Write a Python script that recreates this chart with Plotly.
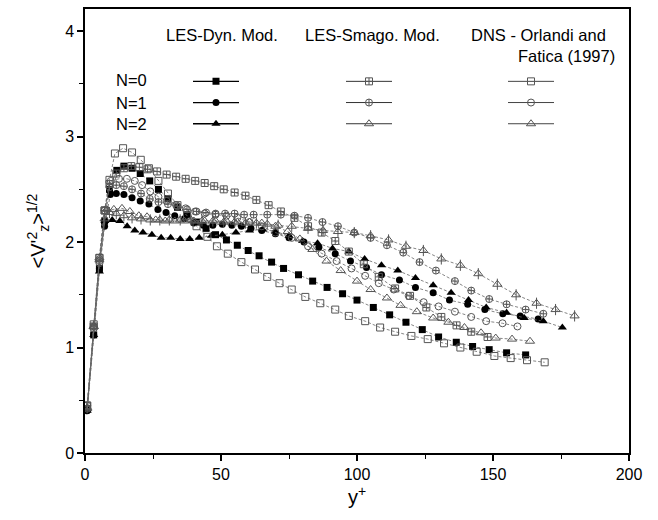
import plotly.graph_objects as go

# ---------------- data ----------------
dyn0_x = [0.8, 3.2, 5.3, 7.2, 9.0, 11.7, 14.3, 17.3, 20.3, 23.8, 27, 30.5, 34, 37.5, 41, 44.5, 48, 52, 56, 60, 64,
          68.6, 73, 78.5, 83.7, 89, 94.7, 100, 106, 112, 118, 124, 130, 136.5, 142.5, 148.6, 155, 162]
dyn0_y = [0.42, 1.12, 1.75, 2.2, 2.5, 2.68, 2.72, 2.70, 2.65, 2.58, 2.50, 2.41, 2.33, 2.26, 2.19, 2.13, 2.07, 2.02,
          1.97, 1.92, 1.87, 1.81, 1.75, 1.69, 1.63, 1.57, 1.51, 1.45, 1.38, 1.31, 1.24, 1.17, 1.10, 1.05, 1.01, 0.98,
          0.95, 0.93]

dyn1_x = [0.8, 3.2, 5.3, 7.2, 9.3, 11.5, 14.3, 17.3, 20.3, 23.5, 26.8, 29.8, 33, 36.5, 40, 43.5, 47, 50.5, 54, 57.5,
          61, 65, 70, 75, 80.5, 86, 92, 97.6, 103.5, 109, 115.6, 121.5, 128, 134, 140.7, 147, 153.6, 160, 166.6]
dyn1_y = [0.40, 1.12, 1.75, 2.15, 2.45, 2.46, 2.45, 2.42, 2.39, 2.36, 2.31, 2.28, 2.25, 2.22, 2.18, 2.16, 2.16, 2.17,
          2.16, 2.15, 2.13, 2.11, 2.08, 2.04, 2.00, 1.95, 1.89, 1.82, 1.76, 1.69, 1.64, 1.57, 1.52, 1.45, 1.41, 1.36,
          1.32, 1.30, 1.27]

dyn2_x = [0.8, 3.2, 5.3, 7.3, 10, 12.8, 15.5, 18.3, 21.3, 24.6, 28, 31.5, 35, 38.5, 42, 46.5, 50.5, 55.5, 60.5, 65.3,
          70, 75, 80, 85.5, 91, 97, 102.8, 109, 115, 121.5, 128, 134.6, 141, 147.5, 155, 161.5, 168.5, 175.5]
dyn2_y = [0.40, 1.12, 1.72, 2.2, 2.21, 2.20, 2.15, 2.11, 2.09, 2.07, 2.04, 2.04, 2.03, 2.03, 2.04, 2.06, 2.07, 2.09,
          2.11, 2.12, 2.10, 2.06, 2.01, 1.99, 1.94, 1.91, 1.84, 1.78, 1.73, 1.66, 1.59, 1.52, 1.45, 1.38, 1.33, 1.28,
          1.25, 1.19]

sma0_x = [0.8, 3.2, 5.3, 7.2, 9.0, 11.5, 14.3, 17, 20, 23, 26.5, 30, 33.5, 37, 40.5, 44, 47.5, 51, 55, 59, 63, 67.5,
          72, 77, 82, 87, 92, 97, 102.5, 108, 114, 119.5, 125.5, 131, 136.6, 142, 148]
sma0_y = [0.45, 1.22, 1.85, 2.3, 2.55, 2.65, 2.70, 2.72, 2.71, 2.69, 2.67, 2.64, 2.62, 2.60, 2.58, 2.56, 2.53, 2.50,
          2.47, 2.44, 2.40, 2.35, 2.29, 2.23, 2.15, 2.09, 2.01, 1.91, 1.79, 1.67, 1.56, 1.49, 1.38, 1.29, 1.21, 1.15,
          1.10]

sma1_x = [0.8, 3.2, 5.3, 7.2, 9.0, 11.5, 14.3, 17.3, 20.6, 23.8, 27, 30.5, 34, 37.5, 41, 44.5, 48, 51.5, 55, 58.5,
          62, 67, 72, 77, 82, 87.3, 93, 99, 105, 111, 117, 123, 129, 136, 142, 148.6, 155, 162, 168.5]
sma1_y = [0.45, 1.2, 1.82, 2.3, 2.52, 2.54, 2.53, 2.50, 2.46, 2.41, 2.38, 2.36, 2.34, 2.31, 2.29, 2.28, 2.27, 2.27,
          2.27, 2.26, 2.26, 2.26, 2.26, 2.25, 2.23, 2.19, 2.15, 2.09, 2.04, 1.97, 1.90, 1.81, 1.73, 1.63, 1.54, 1.46,
          1.41, 1.36, 1.32]

sma2_x = [0.8, 3.2, 5.3, 7.2, 9.0, 11.5, 14.3, 17.3, 20.6, 24, 27.5, 31, 35, 39, 43, 47, 51, 55, 59, 63, 67, 71, 76,
          82, 87.5, 93, 99, 105, 111.6, 118, 124.4, 131, 138, 144.6, 151.6, 158.5, 166, 173, 180]
sma2_y = [0.43, 1.2, 1.83, 2.22, 2.28, 2.27, 2.25, 2.23, 2.22, 2.21, 2.21, 2.21, 2.21, 2.21, 2.20, 2.20, 2.19, 2.19,
          2.18, 2.18, 2.17, 2.16, 2.15, 2.13, 2.11, 2.10, 2.09, 2.06, 2.02, 1.96, 1.92, 1.84, 1.78, 1.70, 1.60, 1.50,
          1.42, 1.36, 1.30]

dns0_x = [0.8, 3.2, 5.3, 7.2, 9.0, 11.0, 14.0, 17.3, 20.5, 23.5, 27, 30.5, 34, 37.5, 41, 45, 48.5, 52.5, 57.5, 62.5,
          67, 71.5, 76, 81, 86.5, 92, 97, 103, 108.5, 114, 120, 126, 132, 138, 144, 150.5, 156.5, 162.5, 169]
dns0_y = [0.45, 1.2, 1.85, 2.3, 2.59, 2.84, 2.89, 2.85, 2.78, 2.70, 2.58, 2.46, 2.35, 2.25, 2.15, 2.05, 1.96, 1.89,
          1.81, 1.74, 1.67, 1.61, 1.55, 1.48, 1.42, 1.36, 1.30, 1.25, 1.19, 1.15, 1.11, 1.08, 1.04, 1.00, 0.96, 0.92,
          0.90, 0.88, 0.86]

dns1_x = [0.8, 3.2, 5.3, 7.3, 9.5, 12.5, 15.4, 18.3, 21, 24, 27, 30, 33.5, 37, 40.5, 44, 48, 52, 56, 60.5, 65, 70,
          76, 82, 87, 92.5, 98, 103, 108, 113.5, 119, 124.5, 130, 136, 142, 147.5, 153.5, 159]
dns1_y = [0.42, 1.18, 1.8, 2.3, 2.58, 2.60, 2.60, 2.58, 2.54, 2.48, 2.43, 2.39, 2.35, 2.32, 2.29, 2.27, 2.26, 2.25,
          2.23, 2.19, 2.15, 2.09, 2.04, 1.96, 1.89, 1.82, 1.75, 1.68, 1.61, 1.55, 1.49, 1.43, 1.39, 1.34, 1.29, 1.25,
          1.23, 1.20]

dns2_x = [0.8, 3.2, 5.3, 8, 10.6, 13.6, 16.5, 19.8, 22.8, 26, 29.5, 33, 36.5, 40, 44, 48, 52, 56, 60.5, 65, 70, 74.5,
          79, 83.6, 88.8, 94, 100, 105, 111, 116, 122, 128, 133.6, 139.5, 145.6, 151, 157, 163.6]
dns2_y = [0.42, 1.2, 1.85, 2.31, 2.31, 2.32, 2.29, 2.25, 2.24, 2.21, 2.20, 2.20, 2.20, 2.20, 2.20, 2.20, 2.20, 2.19,
          2.19, 2.18, 2.15, 2.10, 2.03, 1.93, 1.82, 1.73, 1.63, 1.55, 1.47, 1.40, 1.34, 1.28, 1.24, 1.19, 1.14, 1.09,
          1.08, 1.06]

column_titles = ["LES-Dyn. Mod.", "LES-Smago. Mod.", "DNS - Orlandi and", "Fatica (1997)"]
row_labels = ["N=0", "N=1", "N=2"]
x_ticks = [0, 50, 100, 150, 200]
y_ticks = [0, 1, 2, 3, 4]

# ---------------- styles ----------------
FONT = "Liberation Sans, Arial, Helvetica, sans-serif"
DYN_C = "#000000"
SMA_C = "#555555"
DNS_C = "#555555"
LINE_C = "#666666"

series = [
    # (x, y, legend, symbol, color, filled, legend line color, legend line width)
    (dyn0_x, dyn0_y, "legend", "square", DYN_C, True, "#000000", 1.3),
    (dyn1_x, dyn1_y, "legend", "circle", DYN_C, True, "#000000", 1.3),
    (dyn2_x, dyn2_y, "legend", "triangle-up", DYN_C, True, "#000000", 1.3),
    (sma0_x, sma0_y, "legend2", "square-cross-open", SMA_C, False, "#333333", 1.0),
    (sma1_x, sma1_y, "legend2", "circle-cross-open", SMA_C, False, "#333333", 1.0),
    (sma2_x, sma2_y, "legend2", "triangle-up-open", SMA_C, False, "#333333", 1.0),
    (dns0_x, dns0_y, "legend3", "square-open", DNS_C, False, "#444444", 1.0),
    (dns1_x, dns1_y, "legend3", "circle-open", DNS_C, False, "#444444", 1.0),
    (dns2_x, dns2_y, "legend3", "triangle-up-open", DNS_C, False, "#444444", 1.0),
]


def msize(sym):
    return 8 if "triangle" in sym else 7


fig = go.Figure()

for xs, ys, lg, sym, col, filled, lcol, lw in series:
    fig.add_trace(go.Scatter(
        x=xs, y=ys, mode="lines+markers", showlegend=False,
        line=dict(color=LINE_C, width=0.8, dash="3px,2px"),
        marker=dict(symbol=sym, size=msize(sym), color=col,
                    line=dict(color=col, width=0 if filled else 1)),
    ))
    if sym == "triangle-up-open" and lg == "legend2":
        # vertical bar through the Smagorinsky triangles
        fig.add_trace(go.Scatter(
            x=xs, y=ys, mode="markers", showlegend=False,
            marker=dict(symbol="line-ns-open", size=8, color=col, line=dict(color=col, width=1)),
        ))

# legend proxies (one legend per column)
for i, (xs, ys, lg, sym, col, filled, lcol, lw) in enumerate(series):
    fig.add_trace(go.Scatter(
        x=[None], y=[None], mode="lines+markers", name=" ", legend=lg,
        showlegend=True, legendrank=i,
        line=dict(color=lcol, width=lw),
        marker=dict(symbol=sym, size=msize(sym), color=col,
                    line=dict(color=col, width=0 if filled else 1)),
    ))

L, R, T, B = 85, 29, 7, 67
W, H = 658, 520
pw, ph = W - L - R, H - T - B


def px2paper_x(px):
    return (px - L) / pw


def px2paper_y(py):
    return (H - B - py) / ph


legend_common = dict(
    font=dict(family=FONT, size=14, color="black"),
    bgcolor="rgba(0,0,0,0)", borderwidth=0, itemwidth=46,
    tracegroupgap=0, xanchor="left", yanchor="top", traceorder="normal",
    itemclick=False, itemdoubleclick=False,
)
legend_marker_px = [215, 368, 530]
legends = {}
for name, mx in zip(["legend", "legend2", "legend3"], legend_marker_px):
    legends[name] = dict(legend_common, x=px2paper_x(mx - 27), y=px2paper_y(64))

annotations = []
header_specs = [(column_titles[0], 222, 33, "center"), (column_titles[1], 372, 33, "center"),
                (column_titles[2], 538, 33, "center"), (column_titles[3], 617, 54, "right")]
for txt, cx, cy, anchor in header_specs:
    annotations.append(dict(text=txt, x=px2paper_x(cx), y=px2paper_y(cy), xref="paper", yref="paper",
                            showarrow=False, xanchor=anchor, yanchor="middle",
                            font=dict(family=FONT, size=16.5, color="black")))
for txt, py in zip(row_labels, [78, 101, 123]):
    annotations.append(dict(text=txt, x=px2paper_x(114), y=px2paper_y(py), xref="paper", yref="paper",
                            showarrow=False, xanchor="left", yanchor="middle",
                            font=dict(family=FONT, size=16.5, color="black")))

axis_common = dict(
    showgrid=False, zeroline=False, showline=True, linecolor="black", linewidth=1.5,
    mirror=True, ticks="outside", ticklen=6, tickwidth=1.5, tickcolor="black",
    tickfont=dict(family=FONT, size=16, color="black"),
)

fig.update_layout(
    width=W, height=H,
    margin=dict(l=L, r=R, t=T, b=B),
    paper_bgcolor="white", plot_bgcolor="white",
    annotations=annotations,
    **legends,
    xaxis=dict(axis_common, range=[0, 200], tickvals=x_ticks,
               minor=dict(dtick=25, ticks="outside", ticklen=4, tickwidth=1.2, tickcolor="black"),
               title=dict(text="y<sup>+</sup>", font=dict(family=FONT, size=20, color="black"), standoff=8)),
    yaxis=dict(axis_common, range=[0, 4.21], tickvals=y_ticks,
               minor=dict(dtick=0.5, ticks="outside", ticklen=4, tickwidth=1.2, tickcolor="black"),
               title=dict(text="<V'<sup>2</sup><sub>z</sub>><sup>1/2</sup>",
                          font=dict(family=FONT, size=20, color="black"), standoff=14)),
)

fig.write_html("out.html")
